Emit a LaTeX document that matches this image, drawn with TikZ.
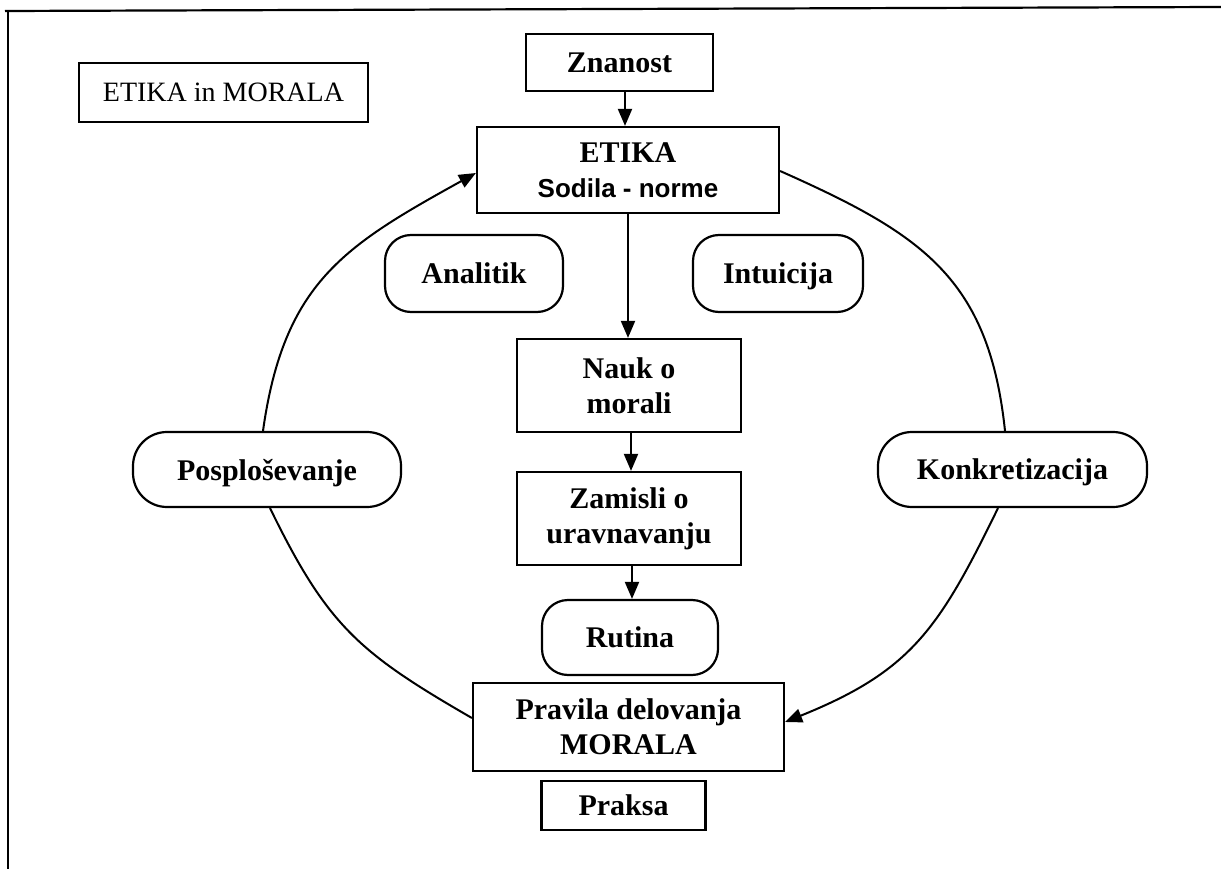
\documentclass[tikz,border=0pt]{standalone}
\usepackage{fontspec}
\setmainfont{Liberation Serif}
\setsansfont{Liberation Sans}
\usetikzlibrary{arrows.meta,calc}
\begin{document}
\begin{tikzpicture}[x=1pt,y=1pt,
  box/.style={draw, line width=2.2pt, inner sep=0pt, align=center,
    font=\fontsize{30}{35}\selectfont\bfseries},
  pill/.style={box, rounded corners=26pt, text depth=0pt},
  conn/.style={line width=2pt},
  arr/.style={conn, -{Triangle[length=17pt,width=14pt]}}]
\useasboundingbox (0,0) rectangle (1221,-869);
\fill[white] (0,0) rectangle (1221,-869);
% frame
\draw[line width=2.2pt] (1221,-7) -- (5,-11);
\draw[line width=2.2pt] (8,-11) -- (8,-869);
% nodes
\node[box, font=\fontsize{28}{32}\selectfont, minimum width=289pt, minimum height=59pt] (title) at (223.5,-92.5) {ETIKA in MORALA};
\node[box, minimum width=187pt, minimum height=57pt] (znanost) at (619.5,-62.5) {Znanost};
\node[box, minimum width=302pt, minimum height=86pt] (etika) at (628,-170) {ETIKA\\{\sffamily\fontsize{26}{30}\selectfont Sodila - norme}};
\node[pill, minimum width=178pt, minimum height=77pt] (analitik) at (474,-273.5) {Analitik};
\node[pill, minimum width=170pt, minimum height=77pt] (intuicija) at (778,-273.5) {Intuicija};
\node[box, minimum width=224pt, minimum height=93pt] (nauk) at (629,-385.5) {Nauk o\\morali};
\node[box, minimum width=224pt, minimum height=93pt] (zamisli) at (629,-518.5) {Zamisli o\\uravnavanju};
\node[pill, rounded corners=34pt, minimum width=268pt, minimum height=75pt] (posp) at (267,-469.5) {Posplo\v{s}evanje};
\node[pill, rounded corners=34pt, minimum width=269pt, minimum height=75pt] (konk) at (1012.5,-469.5) {Konkretizacija};
\node[pill, minimum width=176pt, minimum height=75pt] (rutina) at (630,-637.5) {Rutina};
\node[box, minimum width=311pt, minimum height=88pt] (pravila) at (628.5,-727) {Pravila delovanja\\MORALA};
\node[box, minimum width=164pt, minimum height=49pt] (praksa) at (623.5,-805.5) {\raisebox{-3pt}{Praksa}};
% vertical arrows
\draw[arr] ($(znanost.south)+(5.5,0)$) -- ($(etika.north)+(-3,0)$);
\draw[arr] (etika.south) -- (etika.south |- nauk.north);
\draw[arr] ($(nauk.south)+(2,0)$) -- ($(zamisli.north)+(2,0)$);
\draw[arr] ($(zamisli.south)+(3,0)$) -- ($(zamisli.south |- rutina.north)+(3,0)$);
% left cycle
\draw[arr] ($(posp.north)+(-4,0)$) to[out=82,in=-151,looseness=1.15] ($(etika.west)+(0,-3)$);
\draw[conn] ($(pravila.west)+(0,9)$) to[out=150,in=-64,looseness=1.15] ($(posp.south)+(3,0)$);
% right cycle
\draw[conn] ($(etika.east)+(0,-1)$) to[out=-24,in=96,looseness=1.15] ($(konk.north)+(-7.5,0)$);
\draw[arr] ($(konk.south)+(-14.5,0)$) to[out=-116,in=22,looseness=1.15] ($(pravila.east)+(0,5)$);
\end{tikzpicture}
\end{document}
